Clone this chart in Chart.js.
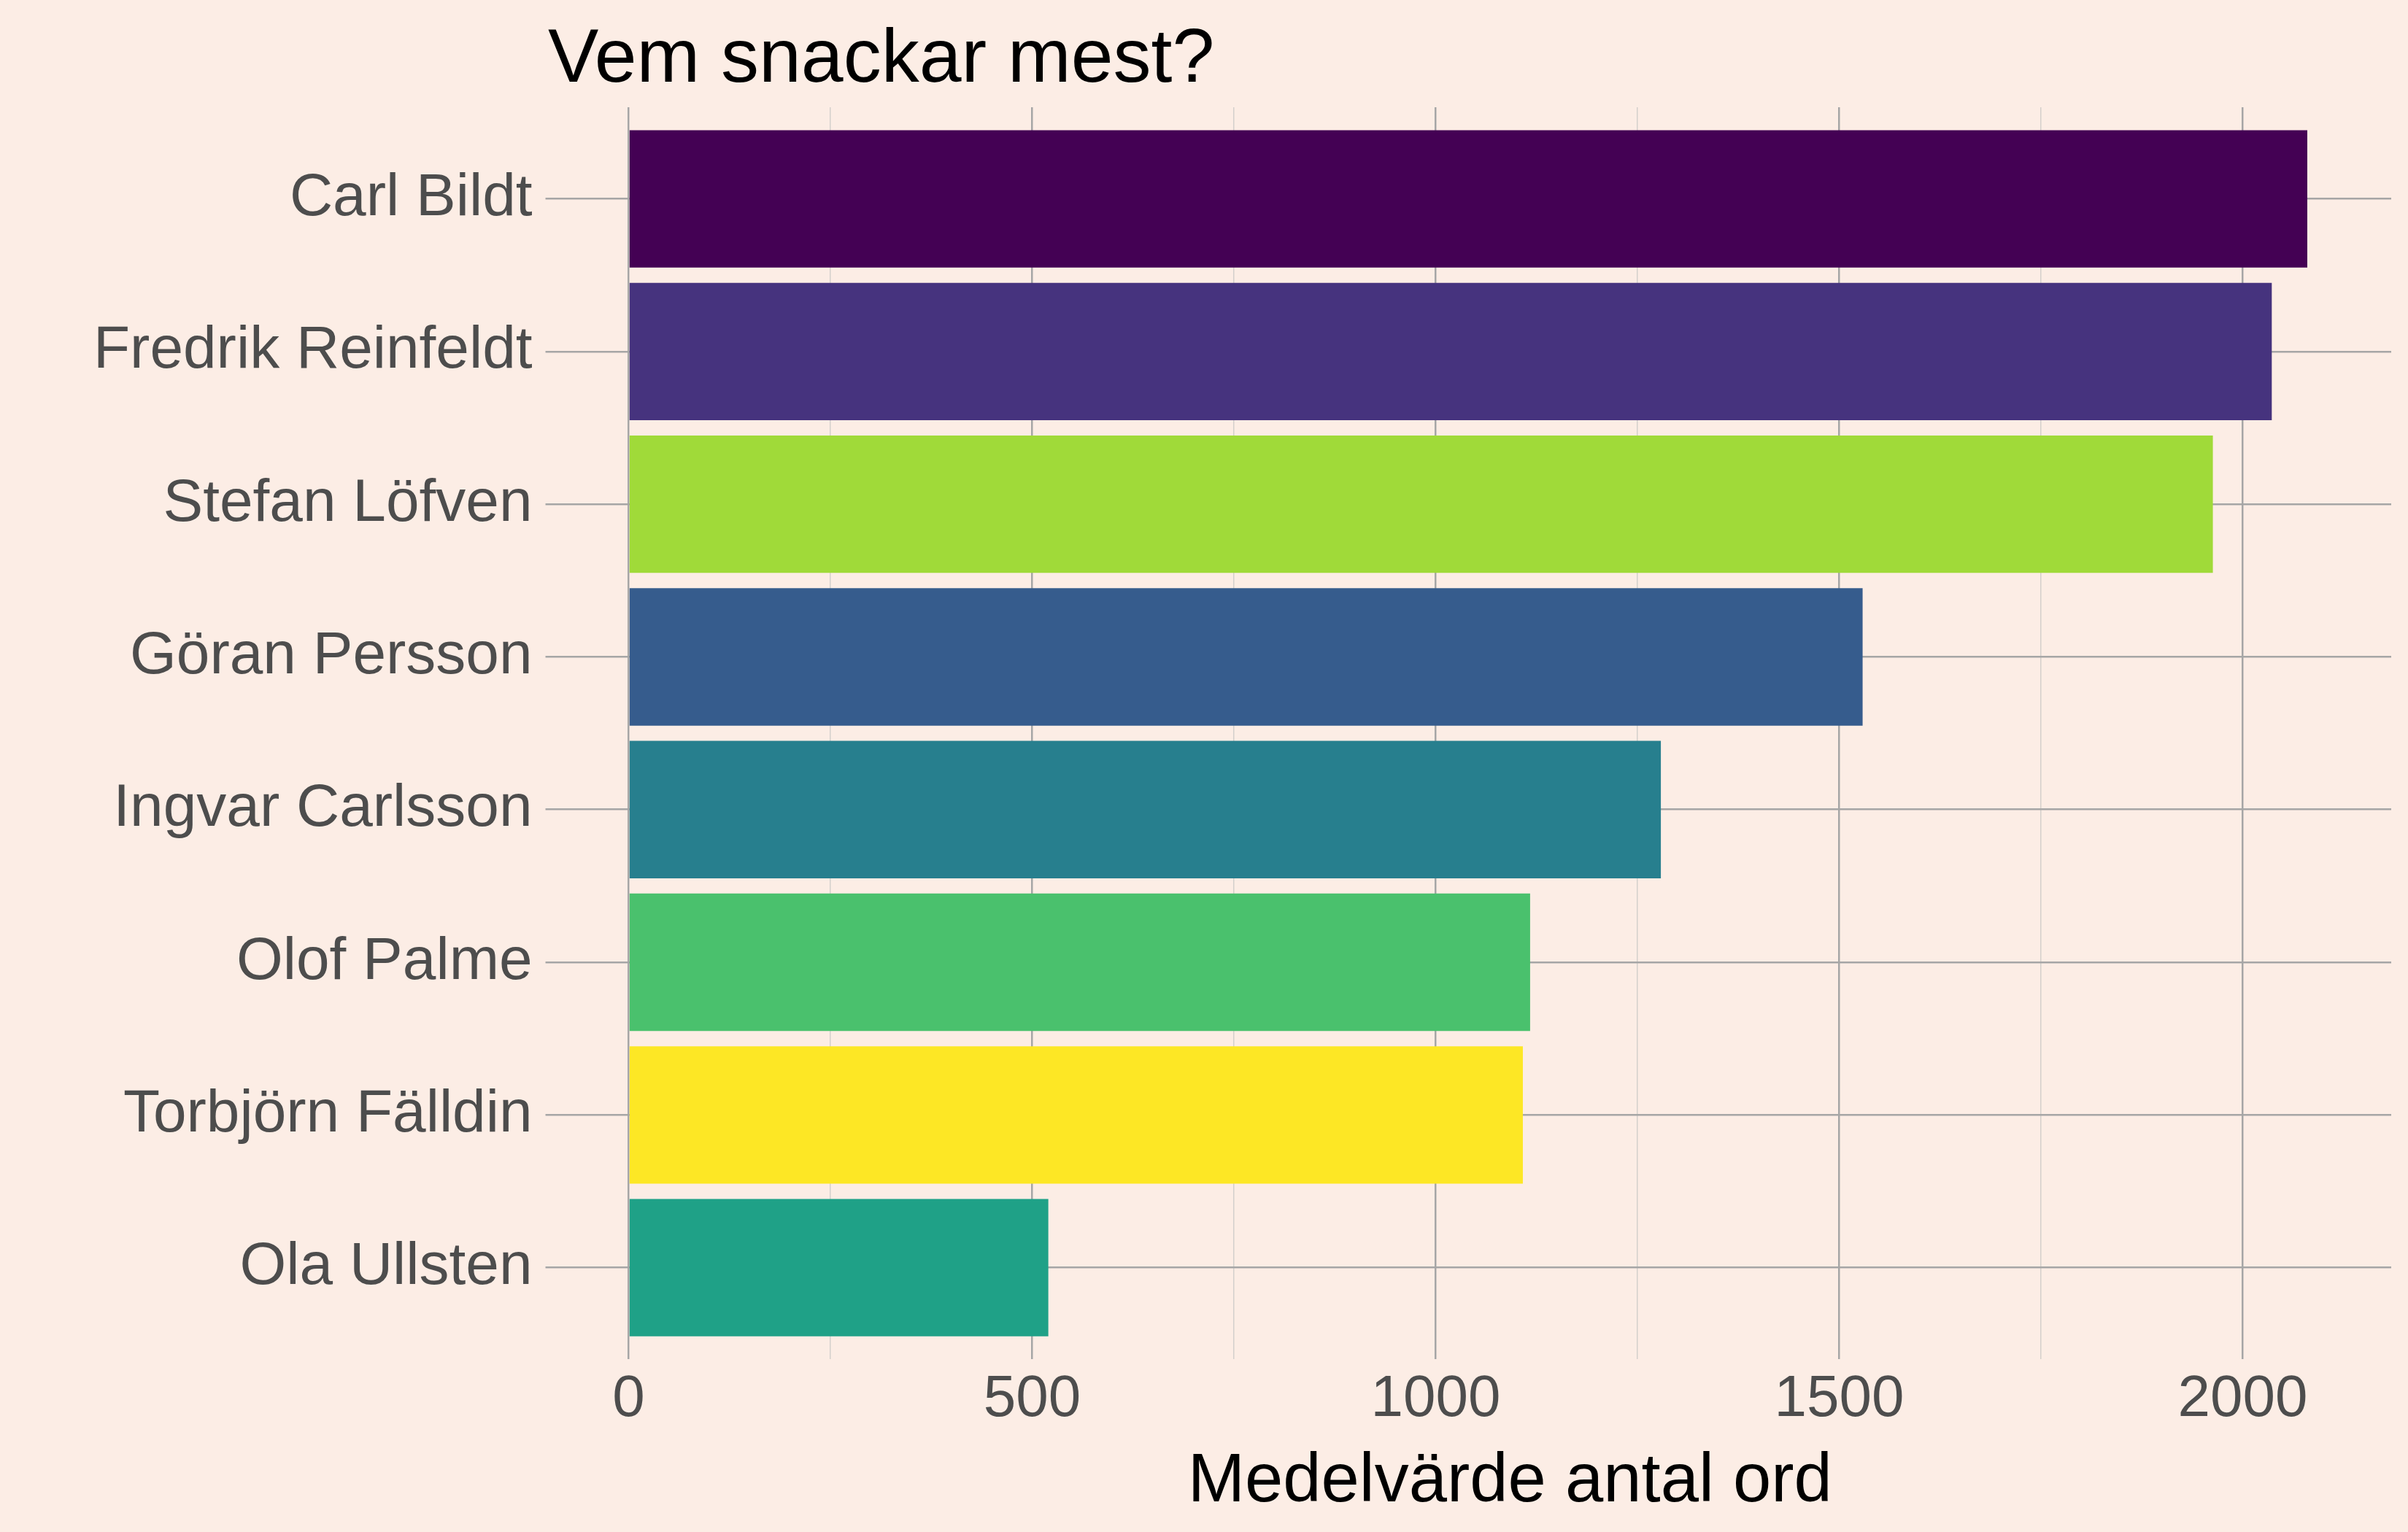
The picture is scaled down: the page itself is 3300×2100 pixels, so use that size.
<!DOCTYPE html>
<html>
<head>
<meta charset="utf-8">
<script src="https://cdn.jsdelivr.net/npm/chart.js@4"></script>
<style>
  html, body { margin: 0; padding: 0; background: #fcede5; }
  #wrap { width: 3300px; height: 2100px; }
</style>
</head>
<body>
<div id="wrap"><canvas id="chart"></canvas></div>
<script>
const names = ['Carl Bildt', 'Fredrik Reinfeldt', 'Stefan Löfven', 'Göran Persson',
    'Ingvar Carlsson', 'Olof Palme', 'Torbjörn Fälldin', 'Ola Ullsten'];
const meanWords = [2080, 2036, 1963, 1529, 1279, 1117, 1108, 520];
const barColors = ['#440154', '#46337e', '#a0da39', '#365c8d',
    '#277f8e', '#4ac16d', '#fde725', '#1fa187'];
const xTicks = [0, 500, 1000, 1500, 2000];

const titlePlugin = {
    id: 'plotTitle',
    afterDraw(chart) {
        const ctx = chart.ctx;
        ctx.save();
        ctx.fillStyle = '#000';
        ctx.font = '104px "Liberation Sans", Arial, sans-serif';
        ctx.textBaseline = 'alphabetic';
        ctx.fillText('Vem snackar mest?', 751, 112);
        ctx.restore();
    }
};

new Chart(document.getElementById('chart'), {
    type: 'bar',
    data: {
        datasets: [{
            data: meanWords.map((v, i) => ({ x: v, y: i })),
            backgroundColor: barColors,
            barPercentage: 0.9,
            categoryPercentage: 1
        }]
    },
    options: {
        indexAxis: 'y',
        responsive: true,
        maintainAspectRatio: false,
        animation: false,
        layout: { padding: { top: 147, right: 23, left: 110, bottom: 12 } },
        plugins: { legend: { display: false }, tooltip: { enabled: false } },
        scales: {
            x: {
                type: 'linear',
                min: 0,
                max: 2184,
                afterBuildTicks: axis => {
                    axis.ticks = [0, 250, 500, 750, 1000, 1250, 1500, 1750, 2000].map(v => ({ value: v }));
                },
                ticks: {
                    callback: v => xTicks.includes(v) ? v : '',
                    color: '#4d4d4d',
                    font: { family: '"Liberation Sans", Arial, sans-serif', size: 80 },
                    padding: 8,
                    maxRotation: 0
                },
                grid: {
                    drawTicks: false,
                    color: c => xTicks.includes(c.tick.value) ? '#a6a6a6' : '#d4d0cc',
                    lineWidth: c => xTicks.includes(c.tick.value) ? 2.5 : 1.5
                },
                border: { display: false },
                title: {
                    display: true,
                    text: 'Medelvärde antal ord',
                    color: '#000',
                    font: { family: '"Liberation Sans", Arial, sans-serif', size: 94 },
                    padding: { top: 0, bottom: 0 }
                }
            },
            y: {
                type: 'linear',
                reverse: true,
                offset: false,
                min: -0.6,
                max: 7.6,
                afterBuildTicks: axis => {
                    axis.ticks = names.map((n, i) => ({ value: i }));
                },
                ticks: {
                    callback: v => names[v],
                    color: '#4d4d4d',
                    font: { family: '"Liberation Sans", Arial, sans-serif', size: 82 },
                    padding: 18
                },
                grid: {
                    offset: false,
                    color: '#a6a6a6',
                    lineWidth: 2.5,
                    tickLength: 114
                },
                border: { display: false }
            }
        }
    },
    plugins: [titlePlugin]
});
</script>
</body>
</html>
